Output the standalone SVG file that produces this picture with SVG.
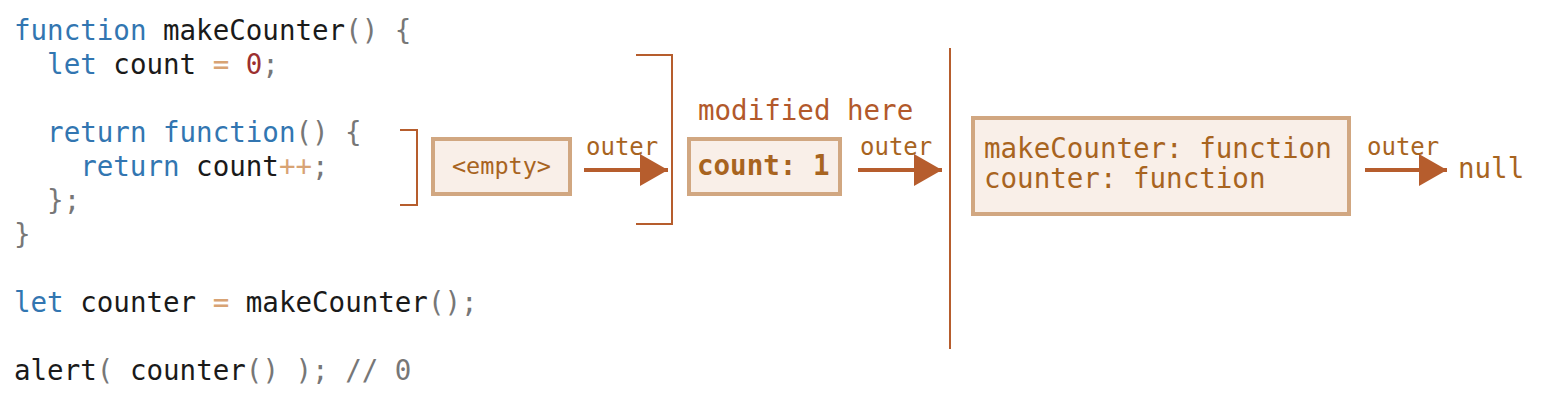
<svg xmlns="http://www.w3.org/2000/svg" width="1542" height="402" viewBox="0 0 1542 402" xml:space="preserve">
<defs>
<style>
.code{font-family:"DejaVu Sans Mono","Liberation Mono",monospace;font-size:27.5px;white-space:pre}
.kw{fill:#3276b1}.id{fill:#1a1a1a}.p{fill:#777}.op{fill:#d8a374}.num{fill:#9c2f2f}
.lbl{font-family:"DejaVu Sans Mono","Liberation Mono",monospace;fill:#a8641f;white-space:pre}
.box{fill:#f9efe8;stroke:#d1a781;stroke-width:4}
.br{fill:none;stroke:#b65d2d;stroke-width:2}
.arr{stroke:#b65d2d;stroke-width:4;fill:none}
</style>
<marker id="ah" markerUnits="userSpaceOnUse" markerWidth="30" markerHeight="32" refX="28" refY="16" orient="auto"><path d="M0,0 L28,16 L0,32 Z" fill="#b65d2d"/></marker>
</defs>
<g id="code" class="code">
<text x="14" y="40"><tspan class="kw">function</tspan><tspan class="id"> makeCounter</tspan><tspan class="p">() {</tspan></text>
<text x="47.1" y="74"><tspan class="kw">let</tspan><tspan class="id"> count </tspan><tspan class="op">=</tspan><tspan class="num"> 0</tspan><tspan class="p">;</tspan></text>
<text x="47.1" y="142"><tspan class="kw">return function</tspan><tspan class="p">() {</tspan></text>
<text x="80.2" y="176"><tspan class="kw">return</tspan><tspan class="id"> count</tspan><tspan class="op">++</tspan><tspan class="p">;</tspan></text>
<text x="47.1" y="210"><tspan class="p">};</tspan></text>
<text x="14" y="244"><tspan class="p">}</tspan></text>
<text x="14" y="312"><tspan class="kw">let</tspan><tspan class="id"> counter </tspan><tspan class="op">=</tspan><tspan class="id"> makeCounter</tspan><tspan class="p">();</tspan></text>
<text x="14" y="380"><tspan class="id">alert</tspan><tspan class="p">( </tspan><tspan class="id">counter</tspan><tspan class="p">() ); // 0</tspan></text>
</g>
<g id="brackets">
<path class="br" d="M400,130 H417 V205 H400"/>
<path class="br" d="M636,55 H672 V224 H636"/>
<path class="br" d="M950,48 V349"/>
</g>
<g id="node-empty">
<rect class="box" x="433" y="139" width="137" height="55"/>
<text class="lbl" x="501.5" y="174" font-size="23.5" text-anchor="middle">&lt;empty&gt;</text>
</g>
<g id="node-count">
<text class="lbl" x="698" y="120" font-size="27.5" style="fill:#b2592b">modified here</text>
<rect class="box" x="689" y="139" width="151" height="55"/>
<text class="lbl" x="697" y="175" font-size="27.5" font-weight="bold">count: 1</text>
</g>
<g id="node-global">
<rect class="box" x="973" y="118" width="376" height="96"/>
<text class="lbl" x="984" y="158" font-size="27.5">makeCounter: function</text>
<text class="lbl" x="984" y="188" font-size="27.5">counter: function</text>
</g>
<g id="node-null">
<text class="lbl" x="1458" y="178" font-size="27.5">null</text>
</g>
<g id="connectors">
<line class="arr" x1="584" y1="170" x2="668" y2="170" marker-end="url(#ah)"/>
<line class="arr" x1="858" y1="170" x2="942" y2="170" marker-end="url(#ah)"/>
<line class="arr" x1="1365" y1="170" x2="1447" y2="170" marker-end="url(#ah)"/>
<text class="lbl" x="586" y="155" font-size="24">outer</text>
<text class="lbl" x="860" y="155" font-size="24">outer</text>
<text class="lbl" x="1367" y="155" font-size="24">outer</text>
</g>
</svg>
